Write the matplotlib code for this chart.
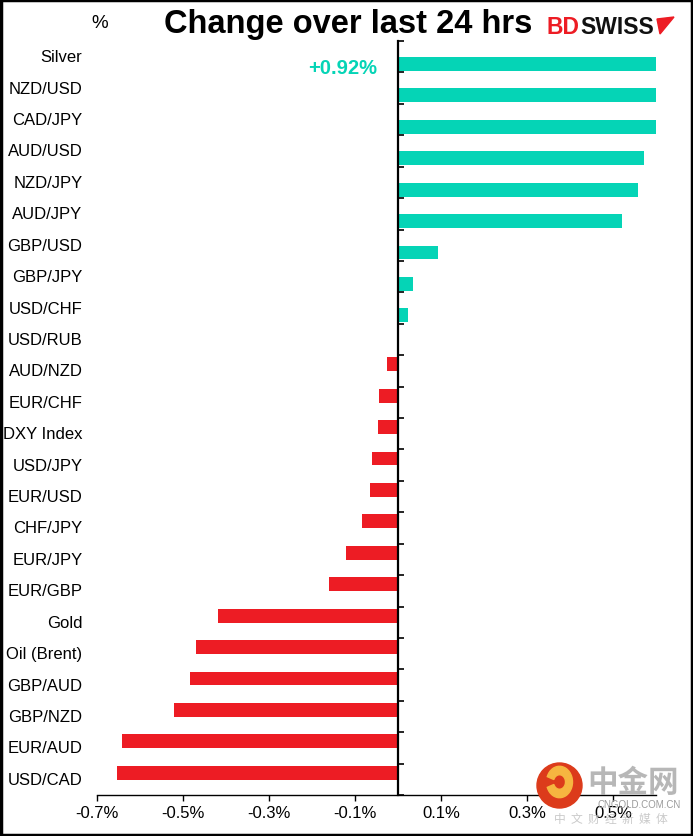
import numpy as np
import matplotlib
matplotlib.use("Agg")
from matplotlib import pyplot as plt
from matplotlib import patches, transforms

plt.rcParams['font.family'] = ['Liberation Sans', 'DejaVu Sans']
plt.rcParams['axes.unicode_minus'] = False

# data, top to bottom as in the chart (% change over 24h)
cats = ["Silver", "NZD/USD", "CAD/JPY", "AUD/USD", "NZD/JPY", "AUD/JPY",
        "GBP/USD", "GBP/JPY", "USD/CHF", "USD/RUB", "AUD/NZD", "EUR/CHF",
        "DXY Index", "USD/JPY", "EUR/USD", "CHF/JPY", "EUR/JPY", "EUR/GBP",
        "Gold", "Oil (Brent)", "GBP/AUD", "GBP/NZD", "EUR/AUD", "USD/CAD"]
vals = [0.92, 0.64, 0.62, 0.572, 0.558, 0.521,
        0.093, 0.036, 0.023, 0.0, -0.026, -0.045,
        -0.047, -0.059, -0.064, -0.083, -0.121, -0.161,
        -0.417, -0.470, -0.484, -0.521, -0.642, -0.653]
xticks = [-0.7, -0.5, -0.3, -0.1, 0.1, 0.3, 0.5]
callout = "+0.92%"

teal = '#05D4B6'
red = '#ED1C24'

W, H = 693, 837
fig = plt.figure(figsize=(W/100, H/100), dpi=100)
ax = fig.add_axes([96.7/W, 1 - 796/H, (656 - 96.7)/W, (796 - 42)/H])

vals = np.array(vals)
ypos = np.arange(len(cats))
pos = np.where(vals > 0, vals, 0)
neg = np.where(vals < 0, vals, 0)
# two series in Excel style: positives sit in the lower half of the slot, negatives in the upper
ax.barh(ypos + 0.23, pos, height=0.44, color=teal, zorder=2)
ax.barh(ypos - 0.21, neg, height=0.44, color=red, zorder=2)

ax.set_xlim(-0.7, 0.6)
ax.set_ylim(len(cats) - 0.5, -0.5)

# axes styling
ax.spines['top'].set_visible(False)
ax.spines['right'].set_visible(False)
ax.spines['left'].set_position(('data', 0))
ax.spines['left'].set_linewidth(1.6)
ax.spines['bottom'].set_linewidth(1.0)
ax.set_yticks(np.arange(-0.5, len(cats), 1))
ax.tick_params(axis='y', direction='in', length=4, width=1.2, labelleft=False)
ax.set_xticks(xticks)
ax.set_xticklabels([f"{v:.1f}%" for v in xticks])
ax.tick_params(axis='x', direction='out', length=4, width=1.0, labelsize=12, pad=3)

# category labels at the left edge
trans = transforms.blended_transform_factory(ax.transAxes, ax.transData)
for i, c in enumerate(cats):
    ax.text(-0.0255, i, c, transform=trans, ha='right', va='center', fontsize=12)

# callout for clipped bar
fig.text(343/W, 1 - 68/H, callout, color=teal, fontsize=14.5, fontweight='bold',
         ha='center', va='center')

# title and unit
fig.text(348/W, 1 - 24/H, "Change over last 24 hrs", fontsize=23.5, fontweight='bold',
         ha='center', va='center')
fig.text(100/W, 1 - 24/H, "%", fontsize=13.5, ha='center', va='center')

# logo
bd = fig.text(547/W, 1 - 27/H, "BD", color=red, fontsize=16.5, fontweight='bold',
              ha='left', va='center')
ax.annotate("SWISS", xy=(1, 0.5), xycoords=bd, ha='left', va='center', color='#111111',
            fontsize=16.5, fontweight='bold', annotation_clip=False)
tri = patches.Polygon([[657/W, 1 - 20/H], [674/W, 1 - 18/H], [660/W, 1 - 35/H]],
                      closed=True, color=red, transform=fig.transFigure)
fig.add_artist(tri)

# watermark
circ = patches.Ellipse((559.5/W, 1 - 786.5/H), 45/W, 45/H, color='#DC3B1B',
                       transform=fig.transFigure, zorder=10)
fig.add_artist(circ)
swirl = patches.Wedge((559.5/W, 1 - 783/H), 13/W, 200, 520, width=7/W,
                      color='#F6B640', transform=fig.transFigure, zorder=11)
fig.add_artist(swirl)
fig.text(633/W, 1 - 783/H, "中金网", fontsize=22, fontweight='bold', color='#ABABAB',
         ha='center', va='center', family=['Noto Sans CJK SC', 'DejaVu Sans'],
         alpha=0.85, zorder=10)
fig.text(639/W, 1 - 805/H, "CNGOLD.COM.CN", fontsize=7, color='#9A9A9A',
         ha='center', va='center', zorder=10)
fig.text(611/W, 1 - 819/H, "中  文  财  经  新  媒  体", fontsize=8.5, color='#BDBDBD',
         ha='center', va='center', family=['Noto Sans CJK SC', 'DejaVu Sans'],
         alpha=0.8, zorder=10)

# outer frame
frame = patches.Rectangle((0.0015, 0.0015), 0.997, 0.997, fill=False, edgecolor='black',
                          linewidth=2.5, transform=fig.transFigure)
fig.add_artist(frame)

fig.savefig("out.png", dpi=100)
